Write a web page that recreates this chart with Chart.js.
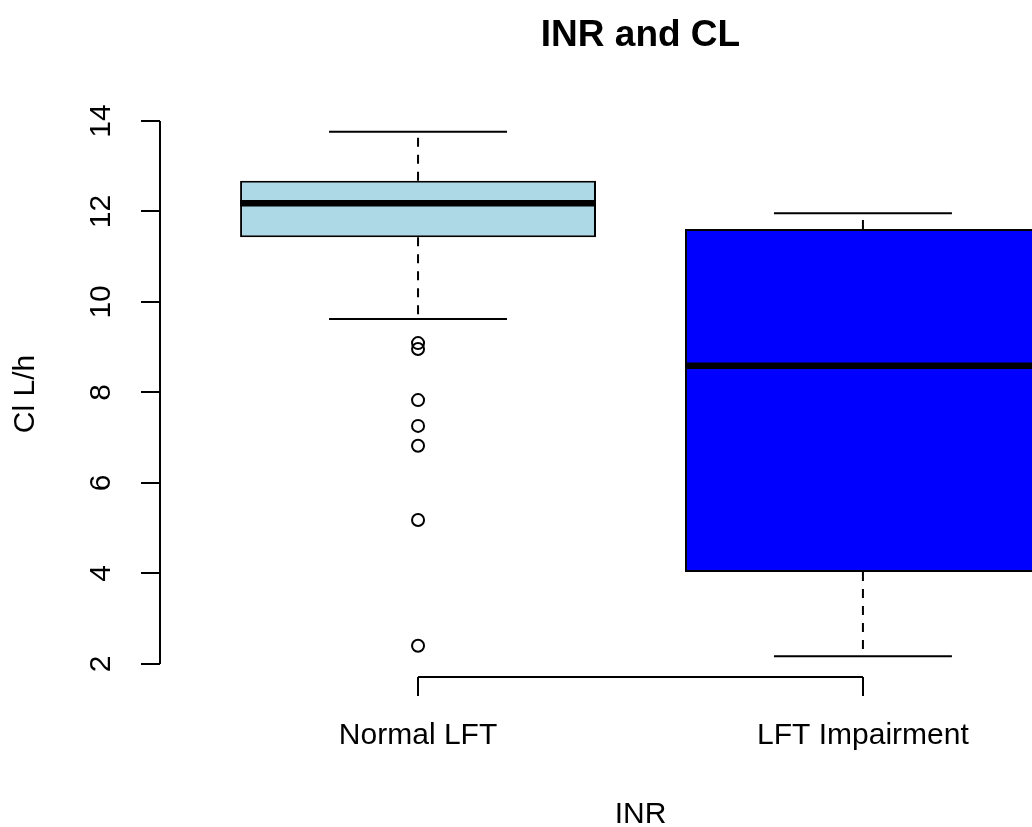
<!DOCTYPE html>
<html>
<head>
<meta charset="utf-8">
<title>INR and CL</title>
<script src="https://cdn.jsdelivr.net/npm/chart.js@4.4.0/dist/chart.umd.min.js"></script>
<style>
  html, body { margin: 0; padding: 0; background: #fff; overflow: hidden; }
  canvas { display: block; }
</style>
</head>
<body>
<canvas id="boxChart" width="1032" height="827"></canvas>
<script>
// Clearance by liver function group
var groups = ['Normal LFT', 'LFT Impairment'];
var positions = [1, 2];
var whiskerLow = [9.62, 2.17];
var q1 = [11.43, 4.03];
var median = [12.18, 8.59];
var q3 = [12.68, 11.61];
var whiskerHigh = [13.76, 11.96];
var outliersNormal = [9.09, 8.96, 7.83, 7.26, 6.82, 5.18, 2.40];
var yTicks = [2, 4, 6, 8, 10, 12, 14];
var boxColors = ['#ADD8E6', '#0000FF'];

var BOX_HALF = 0.4;
var CAP_HALF = 0.2;

var boxData = positions.map(function (p, i) { return { x: p, y: [q1[i], q3[i]] }; });
var outlierData = outliersNormal.map(function (v) { return { x: positions[0], y: v }; });

// whiskers, caps, medians, axis lines and the text around the plot
var boxplotExtras = {
  id: 'boxplotExtras',
  beforeDatasetsDraw: function (chart) {
    var ctx = chart.ctx, xs = chart.scales.x, ys = chart.scales.y;
    ctx.save();
    ctx.strokeStyle = '#000';
    ctx.lineWidth = 2;
    positions.forEach(function (p, i) {
      var cx = xs.getPixelForValue(p);
      ctx.setLineDash([9, 8]);
      ctx.beginPath();
      ctx.moveTo(cx, ys.getPixelForValue(q3[i]));
      ctx.lineTo(cx, ys.getPixelForValue(whiskerHigh[i]));
      ctx.moveTo(cx, ys.getPixelForValue(q1[i]));
      ctx.lineTo(cx, ys.getPixelForValue(whiskerLow[i]));
      ctx.stroke();
      ctx.setLineDash([]);
      ctx.beginPath();
      [whiskerHigh[i], whiskerLow[i]].forEach(function (v) {
        var y = ys.getPixelForValue(v);
        ctx.moveTo(xs.getPixelForValue(p - CAP_HALF), y);
        ctx.lineTo(xs.getPixelForValue(p + CAP_HALF), y);
      });
      ctx.stroke();
    });
    ctx.restore();
  },
  afterDatasetsDraw: function (chart) {
    var ctx = chart.ctx, xs = chart.scales.x, ys = chart.scales.y;
    var area = chart.chartArea;
    ctx.save();
    ctx.strokeStyle = '#000';
    ctx.lineWidth = 6.5;
    ctx.lineCap = 'butt';
    positions.forEach(function (p, i) {
      var y = ys.getPixelForValue(median[i]);
      ctx.beginPath();
      ctx.moveTo(xs.getPixelForValue(p - BOX_HALF), y);
      ctx.lineTo(xs.getPixelForValue(p + BOX_HALF), y);
      ctx.stroke();
    });

    // axis lines only span the first to last tick
    ctx.lineWidth = 2;
    ctx.beginPath();
    ctx.moveTo(area.left, ys.getPixelForValue(yTicks[0]));
    ctx.lineTo(area.left, ys.getPixelForValue(yTicks[yTicks.length - 1]));
    ctx.moveTo(xs.getPixelForValue(positions[0]), area.bottom);
    ctx.lineTo(xs.getPixelForValue(positions[positions.length - 1]), area.bottom);
    ctx.stroke();

    var mid = xs.getPixelForValue((positions[0] + positions[positions.length - 1]) / 2);
    ctx.fillStyle = '#000';
    ctx.textAlign = 'center';
    ctx.textBaseline = 'alphabetic';
    ctx.font = 'bold 37px "Liberation Sans", Arial, sans-serif';
    ctx.fillText('INR and CL', mid, 46);
    ctx.font = '30px "Liberation Sans", Arial, sans-serif';
    ctx.fillText('INR', mid, 823);
    ctx.restore();
  }
};

var ctx = document.getElementById('boxChart').getContext('2d');
var chart = new Chart(ctx, {
  type: 'bar',
  data: {
    datasets: [{
      type: 'bar',
      data: boxData,
      backgroundColor: boxColors,
      borderColor: '#000',
      borderWidth: 2,
      borderSkipped: false,
      categoryPercentage: 0.8,
      barPercentage: 1.0
    }, {
      type: 'scatter',
      data: outlierData,
      pointStyle: 'circle',
      pointRadius: 6,
      pointBorderWidth: 2,
      pointBackgroundColor: 'rgba(0,0,0,0)',
      pointBorderColor: '#000'
    }]
  },
  options: {
    responsive: false,
    animation: false,
    layout: { autoPadding: false, padding: { top: 111, left: 0, right: 0, bottom: 0 } },
    plugins: {
      legend: { display: false },
      tooltip: { enabled: false },
      title: { display: false }
    },
    scales: {
      x: {
        type: 'linear',
        min: 0.42,
        max: 2.38,
        offset: false,
        afterBuildTicks: function (scale) {
          scale.ticks = positions.map(function (p) { return { value: p }; });
        },
        afterFit: function (scale) { scale.height = 150; },
        border: { display: false },
        grid: {
          offset: false,
          drawOnChartArea: false,
          drawTicks: true,
          tickLength: 19,
          color: '#000',
          lineWidth: 2
        },
        ticks: {
          color: '#000',
          padding: 22,
          maxRotation: 0,
          autoSkip: false,
          font: { family: '"Liberation Sans", Arial, sans-serif', size: 30 },
          callback: function (value) {
            var i = positions.indexOf(value);
            return i >= 0 ? groups[i] : '';
          }
        }
      },
      y: {
        type: 'linear',
        min: 1.71,
        max: 14.22,
        afterBuildTicks: function (scale) {
          scale.ticks = yTicks.map(function (v) { return { value: v }; });
        },
        afterFit: function (scale) { scale.width = 160; },
        border: { display: false },
        grid: {
          drawOnChartArea: false,
          drawTicks: true,
          tickLength: 19,
          color: '#000',
          lineWidth: 2
        },
        ticks: {
          color: '#000',
          padding: 23,
          minRotation: 90,
          maxRotation: 90,
          crossAlign: 'center',
          font: { family: '"Liberation Sans", Arial, sans-serif', size: 30 }
        },
        title: {
          display: true,
          text: 'Cl L/h',
          color: '#000',
          padding: { top: 8, bottom: 0 },
          font: { family: '"Liberation Sans", Arial, sans-serif', size: 30 }
        }
      }
    }
  },
  plugins: [boxplotExtras]
});
</script>
</body>
</html>
